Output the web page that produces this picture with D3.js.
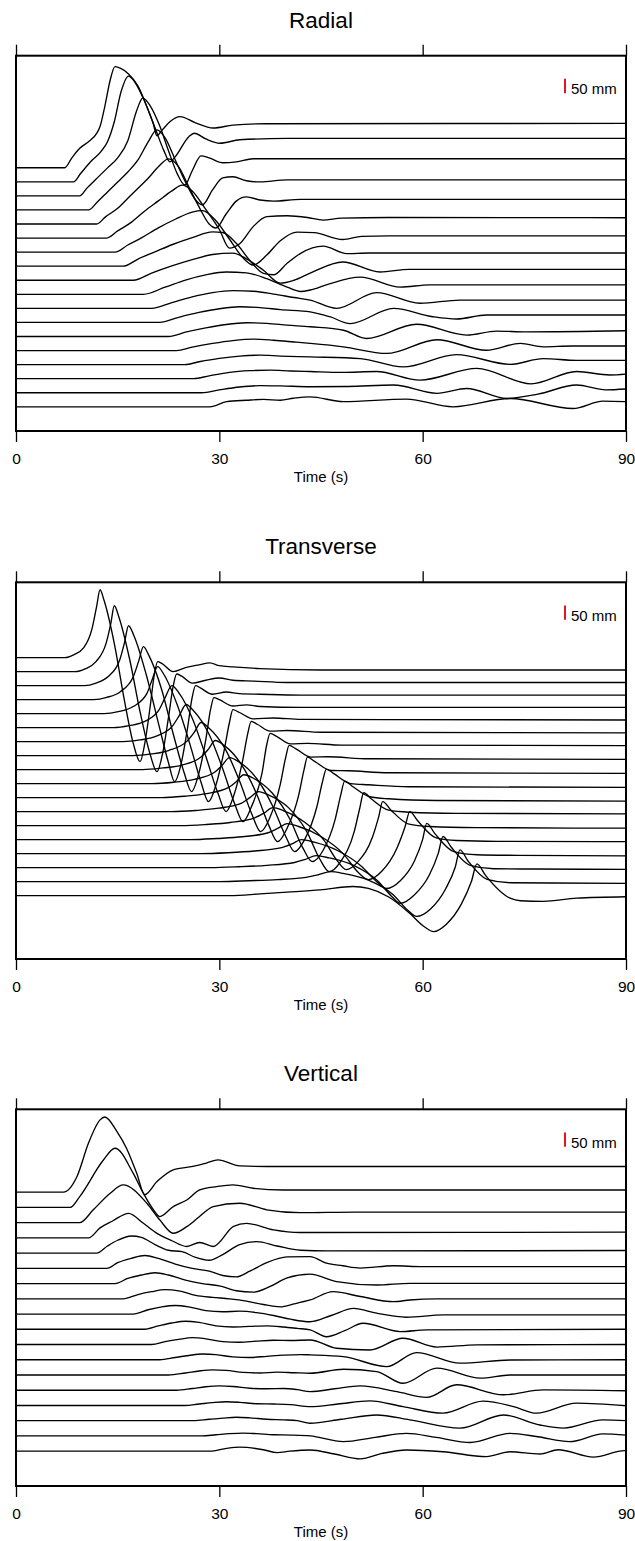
<!DOCTYPE html>
<html>
<head>
<meta charset="utf-8">
<style>
  body { margin: 0; background: #fff; }
  svg { display: block; }
  .trace { fill: none; stroke: #000; stroke-width: 1.35px; stroke-linejoin: round; }
  .frame { fill: none; stroke: #000; stroke-width: 2px; }
  .axis line { stroke: #000; stroke-width: 1.3px; }
  .axis path { display: none; }
  .axis text { font-family: "Liberation Sans", Arial, sans-serif; font-size: 15.5px; fill: #000; }
  .title { font-family: "Liberation Sans", Arial, sans-serif; font-size: 22.5px; }
  .label { font-family: "Liberation Sans", Arial, sans-serif; font-size: 15px; }
  .bar { stroke: #e8141b; stroke-width: 2px; }
</style>
</head>
<body>
<svg id="chart"></svg>
<script src="https://cdn.jsdelivr.net/npm/d3@7"></script>
<script>
// ---- data: time (s), displacement (mm) knots for every trace ----
var timeTicks = [0, 30, 60, 90];
var titles = ['Radial', 'Transverse', 'Vertical'];
var barLength = 50; // mm

var radial = [
  [[0,0],[7.2,0],[8.2,33],[9.4,68],[10.7,91],[11.9,120],[12.4,144],[13.1,214],[13.9,307],[14.6,354],[15.3,349],[16.6,328],[18,286],[19.5,202],[20.2,158],[20.8,112],[21.5,130],[22.7,161],[24.2,179],[26.4,158],[29.1,139],[32,149],[37,154],[90,155]],
  [[0,0],[8.5,0],[9.5,28],[11,70],[12.5,105],[13.5,140],[14.5,210],[15.5,315],[16.6,370],[17.5,350],[19,280],[20.5,190],[21.8,110],[22.7,70],[23.5,88],[25.5,158],[26.3,170],[28,150],[30.1,135],[33,147],[40,152],[90,152]],
  [[0,0],[9.4,0],[10.5,28],[12,63],[13.5,98],[15,133],[16.5,193],[17.8,298],[18.7,342],[19.8,315],[21.2,245],[22.5,158],[23.8,77],[24.9,38],[26,88],[27.3,140],[28.5,133],[30.5,116],[32.5,119],[35,130],[50,130],[90,130]],
  [[0,0],[10.7,0],[12,28],[13.5,63],[15,98],[16.5,133],[18,175],[19.5,238],[20.8,280],[22,252],[23.5,175],[25,98],[26.5,35],[27.5,18],[29,70],[30.5,112],[32,116],[34,102],[36,98],[40,105],[90,105]],
  [[0,0],[11.9,0],[13.2,25],[15,55],[16.5,90],[18,125],[19.5,160],[21,200],[22.5,228],[24,200],[25.5,130],[27,60],[28.5,0],[29.5,-14],[31,35],[32.5,80],[34,95],[36,84],[38,80],[42,86],[90,86]],
  [[0,0],[13.4,0],[15,25],[17,55],[19,95],[21,130],[23,165],[24.5,185],[26,165],[28,100],[30,30],[31.5,-35],[33,-20],[35,40],[37,75],[40,78],[43,72],[45.3,63],[48,70],[55,72],[90,71]],
  [[0,0],[14.6,0],[16.5,25],[18.5,50],[21,85],[23.5,115],[26,140],[27.5,145],[29.5,110],[31.5,45],[33.5,-20],[35,-45],[37,-10],[39,40],[41.5,70],[44,68],[48.2,44],[51,55],[55,57],[90,57]],
  [[0,0],[15.8,0],[18,25],[20.5,50],[23,75],[26,100],[29,120],[30.5,118],[32.5,80],[34.5,20],[36.5,-25],[38,-30],[40,10],[42,45],[45.3,70],[48.8,44],[52,46],[60,46],[90,46]],
  [[0,0],[17.3,0],[20,25],[23,50],[26,72],[29,90],[32,95],[34,75],[36.5,35],[39,-10],[41,0],[43.4,25],[48.2,64],[53.7,29],[58,38],[65,38],[90,38]],
  [[0,0],[18.8,0],[22,25],[25,50],[28,68],[31,78],[34,75],[37,55],[40,25],[42,10],[43.4,15],[46,35],[50.8,60],[56.7,25],[61,33],[90,33]],
  [[0,0],[20,0],[23,20],[26,40],[29,55],[32,62],[35,60],[38,50],[41,38],[43.4,29],[47.3,0],[53.2,55],[59.6,18],[65.5,29],[90,29]],
  [[0,0],[21.2,0],[24,18],[27,35],[30,48],[33,55],[36,52],[39,45],[43.4,37],[46.3,20],[49.3,-4],[55.7,49],[61.5,20],[65,12],[69.4,26],[90,26]],
  [[0,0],[22.5,0],[25,15],[28,30],[31,42],[34,48],[37,46],[40,40],[43.4,34],[48.3,22],[51.7,-7],[59.1,43],[66.5,5],[70.9,19],[75.3,16],[90,20]],
  [[0,0],[23.7,0],[26,12],[29,25],[32,35],[35,40],[38,36],[41,30],[43.4,25],[48.3,13],[54.7,-10],[62.1,38],[69.4,1],[74.4,25],[77.8,13],[82,16],[90,16]],
  [[0,0],[24.9,0],[27,10],[30,22],[33,30],[36,33],[39,30],[43.4,27],[50.8,21],[57.1,-8],[65,35],[72.9,1],[77.8,21],[82.7,15],[90,15]],
  [[0,0],[26.2,0],[28.5,10],[31.5,22],[34.5,28],[37.5,30],[40.5,27],[43.4,25],[48,22],[53.2,25],[59.6,-5],[68,36],[76,-18],[82.7,25],[87.6,13],[90,16]],
  [[0,0],[27.4,0],[30,10],[33,20],[36,25],[39,24],[43.4,21],[49,22],[55.7,27],[62.1,-2],[66.5,15],[72.4,-20],[77,-5],[82.7,27],[87,10],[90,13]],
  [[0,0],[28.6,0],[31.1,18],[34,23],[36.5,26],[39,23],[40.9,30],[43.4,35],[48.3,18],[57.6,27],[64.5,0],[72.9,29],[82.2,-6],[86.6,20],[90,18]]
];

var transverse = [
  [[0,0],[7.2,0],[8.5,10],[10,35],[11.2,100],[11.9,180],[12.4,238],[13,200],[14.5,50],[16,-150],[17.3,-300],[18.3,-364],[19,-300],[19.8,-170],[20.4,-60],[20.9,-14],[21.5,-20],[23.2,-49],[25,-35],[27,-25],[28.6,-18],[30,-28],[32,-32],[36,-38],[45,-43],[90,-43]],
  [[0,0],[8.7,0],[10.2,10],[11.8,35],[13.3,100],[14,170],[14.5,231],[15.2,190],[16.8,40],[18.3,-140],[19.8,-290],[20.8,-350],[21.6,-290],[22.5,-160],[23.2,-50],[23.7,-8],[24.4,-15],[26,-40],[28,-30],[30,-22],[32,-30],[35,-33],[40,-38],[90,-38]],
  [[0,0],[10.1,0],[11.8,9],[13.6,32],[15.3,90],[16,150],[16.6,210],[17.4,175],[19.2,40],[21,-130],[22.5,-270],[23.4,-336],[24.3,-280],[25.3,-150],[26,-40],[26.5,0],[27.2,-8],[29,-30],[31,-22],[33,-28],[36,-30],[42,-33],[90,-33]],
  [[0,0],[11.5,0],[13.4,8],[15.4,28],[17.3,80],[18.1,135],[18.8,186],[19.6,155],[21.5,35],[23.2,-120],[24.8,-255],[25.9,-322],[26.9,-265],[28,-140],[28.7,-35],[29.2,7],[30,0],[32,-22],[34,-18],[36,-24],[42,-27],[90,-27]],
  [[0,0],[13,0],[15.1,7],[17.3,25],[19.3,70],[20.1,120],[20.9,165],[21.8,138],[23.8,30],[25.7,-110],[27.3,-240],[28.4,-308],[29.5,-250],[30.7,-130],[31.5,-30],[32,14],[32.9,5],[35,-18],[38,-15],[42,-20],[90,-22]],
  [[0,0],[14.4,0],[16.7,7],[19,22],[21.1,62],[22,105],[23,147],[24,123],[26.1,28],[28,-100],[29.8,-230],[31,-294],[32.1,-240],[33.4,-120],[34.2,-20],[34.7,22],[35.6,12],[37.5,-12],[40,-10],[45,-16],[90,-18]],
  [[0,0],[15.8,0],[18.3,6],[20.8,20],[23.1,55],[24.1,92],[25.1,130],[26.2,108],[28.5,25],[30.5,-95],[32.3,-220],[33.5,-280],[34.7,-230],[36.3,-110],[37,-10],[37.5,29],[38.5,18],[40.5,-8],[43,-6],[48,-12],[90,-14]],
  [[0,0],[17.2,0],[20,6],[22.5,18],[25.2,50],[26.3,82],[27.3,116],[28.5,96],[30.9,22],[33,-90],[34.8,-205],[36.1,-266],[37.4,-220],[39,-100],[39.8,-5],[40.3,36],[41.3,24],[43.5,-5],[46,-4],[52,-11],[90,-13]],
  [[0,0],[18.7,0],[21.7,6],[24.5,16],[27.3,44],[28.4,72],[29.4,102],[30.7,85],[33.2,20],[35.5,-85],[37.3,-195],[38.6,-252],[40,-205],[41.7,-90],[42.5,0],[43,44],[44,30],[46.5,-3],[49,-4],[55,-11],[90,-13]],
  [[0,0],[20.1,0],[23.3,5],[26.3,15],[29.3,40],[30.4,64],[31.5,91],[32.9,76],[35.5,18],[37.9,-80],[39.8,-185],[41.1,-238],[42.6,-195],[44.4,-80],[45.2,5],[45.8,51],[46.9,35],[49.4,0],[52,-4],[58,-11],[90,-13]],
  [[0,0],[21.5,0],[24.9,5],[28.1,14],[31.3,35],[32.5,56],[33.6,80],[35.1,67],[37.8,16],[40.4,-75],[42.3,-175],[43.7,-224],[45.3,-185],[47.1,-75],[47.9,8],[48.5,58],[49.6,40],[52.2,3],[55,-4],[62,-10],[90,-12]],
  [[0,0],[23,0],[26.5,4],[29.9,12],[33.3,30],[34.5,49],[35.8,70],[37.3,58],[40.2,14],[42.9,-70],[44.8,-165],[46.2,-210],[47.9,-175],[49.9,-70],[50.7,10],[51.3,66],[52.4,45],[55,5],[58,-2],[65,-6],[90,-8]],
  [[0,0],[24.4,0],[28.1,4],[31.6,11],[35.2,27],[36.6,44],[37.9,63],[39.5,52],[42.6,12],[45.4,-50],[47.3,-120],[48.7,-154],[50.5,-125],[52.6,-40],[53.5,30],[54.1,84],[55.3,55],[58,5],[61,-3],[68,-7],[90,-9]],
  [[0,0],[25.8,0],[29.7,4],[33.4,10],[37.2,24],[38.6,39],[40,56],[41.7,46],[45,11],[48.3,-50],[50.5,-115],[52,-140],[54,-110],[56.2,-30],[57.4,45],[58.1,98],[59.3,65],[62,6],[65,-3],[71,-6],[90,-7]],
  [[0,0],[27.3,0],[31.3,3],[35.2,9],[39.2,21],[40.7,34],[42.1,49],[44,40],[47.5,10],[51,-45],[53.3,-100],[54.7,-122],[56.7,-95],[58.8,-25],[60,50],[60.6,106],[61.8,70],[64.6,7],[68,-4],[74,-6],[90,-8]],
  [[0,0],[28.7,0],[32.9,3],[37,8],[41.1,18],[42.7,29],[44.3,42],[46.2,34],[49.8,8],[53.3,-45],[55.4,-100],[56.7,-125],[58.8,-95],[61,-25],[62.3,50],[63,109],[64.2,72],[67,8],[70.5,-4],[76,-5],[90,-6]],
  [[0,0],[30.1,0],[34.4,3],[38.6,7],[42.8,15],[44.6,24],[46.4,35],[48.4,28],[52,5],[55.6,-45],[57.8,-100],[59.1,-122],[61.2,-95],[63.4,-25],[64.8,50],[65.5,111],[66.7,72],[69.5,8],[73,-4],[79,-5],[90,-6]],
  [[0,0],[31.6,0],[36,6],[40,12],[44.9,20],[49.7,32],[52,25],[55,-5],[58,-60],[60.3,-110],[61.6,-126],[63.5,-100],[65.7,-30],[67.2,50],[68,111],[69.3,70],[72.9,-9],[74.4,-18],[77.8,-20],[82.7,-9],[90,-4]]
];

var vertical = [
  [[0,0],[7,0],[9,55],[10.7,172],[12.4,253],[13.1,263],[14.9,212],[16.3,154],[17.8,67],[19,-9],[20.8,37],[23.2,78],[26.1,90],[28.1,102],[29.8,113],[33,92],[37,90],[45,90],[90,90]],
  [[0,0],[8,0],[9.4,38],[12.9,166],[14.6,207],[17.3,119],[18.8,49],[20.3,-9],[21.2,-32],[23.2,3],[25.2,26],[27.1,61],[29.6,73],[32,79],[35,67],[39.4,61],[90,61]],
  [[0,0],[9.4,0],[11.4,45],[13.9,103],[15.8,132],[19.3,68],[21.2,10],[23.2,-37],[25.2,-14],[27,20],[29.1,56],[33,68],[37,45],[41.9,35],[50,37],[90,37]],
  [[0,0],[10.7,0],[12.4,35],[14.3,60],[16.6,86],[18.8,51],[20.8,16],[23,-10],[25.2,-30],[27.1,-16],[29.1,-30],[32.1,40],[34,51],[38,28],[41.9,19],[90,20]],
  [[0,0],[11.9,0],[13.5,25],[15,45],[17,60],[18.5,55],[20.5,30],[22.5,10],[24.5,5],[26.5,-15],[28.5,-25],[30.5,-5],[33,30],[35.5,40],[38.5,25],[42,10],[46,8],[90,9]],
  [[0,0],[13.4,0],[15,20],[17,35],[19,45],[21,35],[23.5,15],[26,0],[28.5,-10],[30.5,-25],[32.5,-30],[34.5,-10],[37,20],[40,40],[43.4,41],[45.8,18],[48.2,9],[50.8,1],[55.7,9],[60,6],[90,6]],
  [[0,0],[14.6,0],[16.5,18],[18.5,30],[20.5,38],[22.5,30],[25,12],[27.5,0],[30,-8],[32.5,-25],[35,-30],[37.5,-10],[40,20],[43.4,33],[47.3,7],[53.2,-5],[58.1,1],[90,1]],
  [[0,0],[15.8,0],[18,15],[20,25],[22,32],[24,28],[26.5,12],[29,5],[31.5,0],[34,-8],[36.5,-20],[39,-28],[41,-18],[43.4,-4],[46.8,25],[50.8,8],[55.7,-10],[58.1,-4],[62,0],[90,0]],
  [[0,0],[17.3,0],[19.5,15],[21.5,25],[23.5,30],[25.5,25],[28,12],[30.5,8],[33,10],[35.5,5],[38,-5],[40.5,-18],[43.4,-27],[46.5,-5],[49.8,20],[53.2,3],[57.6,-11],[63,-3],[90,-3]],
  [[0,0],[18.8,0],[21,12],[23,22],[25,28],[27,24],[29.5,12],[32,8],[34.5,10],[37,12],[39.5,8],[41.5,3],[43.4,-2],[45.8,-26],[48.5,-5],[51.2,21],[56.7,-8],[60.6,-2],[90,0]],
  [[0,0],[20,0],[22,10],[24,18],[26,24],[28,20],[30.5,10],[33,8],[35.5,12],[38,15],[40.5,14],[43.4,16],[47.3,-13],[52.2,-19],[57.1,22],[62.1,-9],[68,-1],[90,0]],
  [[0,0],[21.2,0],[23.5,8],[25.5,15],[27.5,20],[29.5,18],[32,10],[34.5,8],[37,12],[39.5,16],[42,18],[43.4,17],[48.3,11],[54.7,-24],[59.1,25],[65.5,-12],[72.9,-1],[90,0]],
  [[0,0],[22.5,0],[25,7],[27,14],[29,18],[31,16],[33.5,9],[36,7],[38.5,10],[41,8],[43.4,6],[48.3,20],[53.2,12],[57.1,-29],[62.1,24],[68.5,-11],[72.9,0],[90,0]],
  [[0,0],[23.7,0],[26,6],[28,12],[30,15],[32,13],[34.5,7],[37,5],[39.5,6],[41.5,2],[43.4,-5],[47,5],[50.8,15],[56.2,-5],[60.6,-25],[65,19],[71.9,-16],[77.8,1],[90,-2]],
  [[0,0],[24.9,0],[27,5],[29,10],[31,13],[33,11],[35.5,6],[38,5],[40.5,3],[43.4,-4],[47.5,5],[52.2,16],[57.1,-4],[63,-27],[68.9,15],[73.4,-4],[76.8,-27],[82.7,8],[90,-1]],
  [[0,0],[26.2,0],[28.5,5],[30.5,9],[32.5,12],[34.5,10],[37,5],[39.5,3],[41.5,0],[43.4,-9],[48,5],[53.2,20],[58.1,3],[65.5,-26],[71.9,20],[77.3,-15],[80.8,-26],[86.6,3],[90,0]],
  [[0,0],[27.4,0],[29.5,4],[31.5,8],[33.5,10],[35.5,8],[38,4],[40.5,3],[43.4,0],[48.3,-20],[53,-5],[57.6,9],[62,-5],[67,-23],[72.9,9],[77,-3],[81.7,-20],[86.6,7],[90,3]],
  [[0,0],[28.6,0],[31.1,10],[33,14],[36.5,5],[38.5,-5],[40.4,0],[43.4,4],[47,-10],[50.8,-27],[54,-8],[57.6,4],[63,-2],[69.4,-19],[72.9,-2],[77.3,-10],[80,5],[85.2,-21],[89.8,2],[90,2]]
];

// ---- layout ----
var width = 635, height = 1541;
var panels = [
  { title: titles[0], traces: radial,     gap: 49.2, top: 55.7,   h: 375.3, domain: [-921, 392] },
  { title: titles[1], traces: transverse, gap: 49.0, top: 582.3,  h: 376.7, domain: [-1055, 264] },
  { title: titles[2], traces: vertical,   gap: 53.3, top: 1109.3, h: 376.7, domain: [-1028, 290] }
];

var svg = d3.select('#chart').attr('width', width).attr('height', height);
svg.append('rect').attr('width', width).attr('height', height).attr('fill', '#fff');

var x = d3.scaleLinear().domain([0, 90]).range([16, 626]);

panels.forEach(function(p) {
  var bottom = p.top + p.h;
  var y = d3.scaleLinear().domain(p.domain).range([bottom, p.top]);
  var g = svg.append('g');

  // traces
  p.traces.forEach(function(tr, i) {
    var line = d3.line()
      .x(function(d) { return x(d[0]); })
      .y(function(d) { return y(d[1] - i * p.gap); })
      .curve(d3.curveMonotoneX);
    g.append('path').datum(tr).attr('class', 'trace').attr('d', line);
  });

  // frame
  g.append('rect').attr('class', 'frame')
    .attr('x', x(0)).attr('y', p.top)
    .attr('width', x(90) - x(0)).attr('height', p.h);

  // axes
  var bx = g.append('g').attr('class', 'axis')
    .attr('transform', 'translate(0,' + bottom + ')')
    .call(d3.axisBottom(x).tickValues(timeTicks).tickSize(11));
  bx.selectAll('text').attr('dy', null).attr('y', 33);
  g.append('g').attr('class', 'axis')
    .attr('transform', 'translate(0,' + p.top + ')')
    .call(d3.axisTop(x).tickValues(timeTicks).tickSize(11).tickFormat(''));

  g.append('text').attr('class', 'label')
    .attr('x', (x(0) + x(90)) / 2).attr('y', bottom + 50.5)
    .attr('text-anchor', 'middle').text('Time (s)');

  g.append('text').attr('class', 'title')
    .attr('x', (x(0) + x(90)) / 2).attr('y', p.top - 28)
    .attr('text-anchor', 'middle').text(p.title);

  // 50 mm scale bar
  var barBase = p.domain[1] - 131;
  g.append('line').attr('class', 'bar')
    .attr('x1', x(81)).attr('x2', x(81))
    .attr('y1', y(barBase)).attr('y2', y(barBase + barLength));
  g.append('text').attr('class', 'label')
    .attr('x', x(81) + 6).attr('y', y(barBase) + 1)
    .text(barLength + ' mm');
});
</script>
</body>
</html>
